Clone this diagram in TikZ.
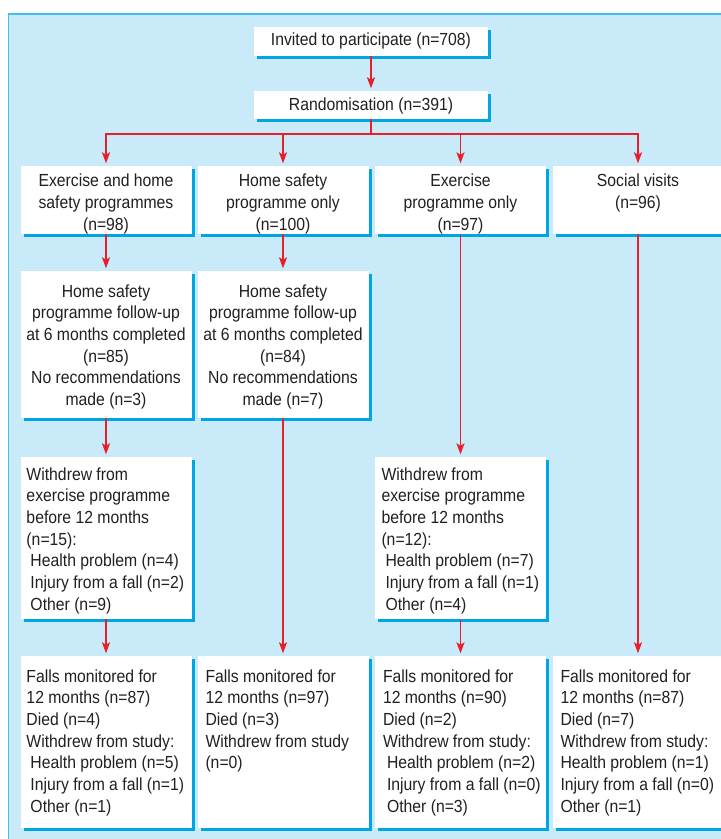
\documentclass[tikz,border=0pt]{standalone}
\usepackage{fontspec}
\setmainfont{Liberation Sans}[FakeStretch=0.9]
\usetikzlibrary{arrows.meta,shadows,calc}
\definecolor{panel}{RGB}{200,234,249}
\definecolor{panelline}{RGB}{64,190,238}
\definecolor{shadowblue}{RGB}{0,166,228}
\definecolor{arrowred}{RGB}{232,30,40}
\definecolor{ink}{RGB}{35,31,32}
\begin{document}
\begin{tikzpicture}[x=1pt,y=-1pt,
  bx/.style={fill=white, draw=none, inner sep=0pt, minimum width=171pt,
    copy shadow={shadow xshift=3pt, shadow yshift=-3pt, fill=shadowblue, draw=none}},
  txt/.style={inner sep=0pt, font=\fontsize{17.5}{21.7}\selectfont, text=ink,
    execute at begin node=\strut},
  ctxt/.style={txt, align=center, anchor=north},
  ltxt/.style={txt, align=left, anchor=north west},
  arr/.style={draw=arrowred, line width=1.5pt,
    -{Stealth[length=11pt,width=8pt,inset=2.5pt]}, shorten >=2.5pt},
  lin/.style={draw=arrowred, line width=1.5pt}
]
\useasboundingbox (0,0) rectangle (721,839);
\clip (0,0) rectangle (721,839);
\fill[white] (0,0) rectangle (721,839);
\draw[panelline, fill=panel, line width=1.5pt] (8.5,14) rectangle (740,860);

% top boxes
\node[bx, minimum width=234pt, minimum height=29pt, txt, execute at begin node={}] (inv) at (371,41.5) {Invited to participate (n=708)};
\node[bx, minimum width=234pt, minimum height=28pt, txt, execute at begin node={}] (rand) at (371,105) {};
\node[txt, execute at begin node={}] (randt) at ($(rand.center)+(0,1.5)$) {Randomisation (n=391)};

% row 1
\node[bx, minimum height=68pt] (r1a) at (106,200) {};
\node[bx, minimum height=68pt] (r1b) at (283,200) {};
\node[bx, minimum height=68pt] (r1c) at (460.5,200) {};
\node[bx, minimum height=68pt] (r1d) at (638,200) {};
% row 2
\node[bx, minimum height=147pt] (r2a) at (106,344.5) {};
\node[bx, minimum height=147pt] (r2b) at (283,344.5) {};
% row 3
\node[bx, minimum height=162pt] (r3a) at (106,538) {};
\node[bx, minimum height=162pt] (r3c) at (460.5,538) {};
% row 4
\node[bx, minimum height=172pt] (r4a) at (106,742) {};
\node[bx, minimum height=172pt] (r4b) at (283,742) {};
\node[bx, minimum height=172pt] (r4c) at (460.5,742) {};
\node[bx, minimum height=172pt] (r4d) at (638,742) {};

% texts row 1
\node[ctxt] (t1a) at ($(r1a.north)+(0,8.3)$) {Exercise and home\\safety programmes\\(n=98)};
\node[ctxt] (t1b) at ($(r1b.north)+(0,8.3)$) {Home safety\\programme only\\(n=100)};
\node[ctxt] (t1c) at ($(r1c.north)+(0,8.3)$) {Exercise\\programme only\\(n=97)};
\node[ctxt] (t1d) at ($(r1d.north)+(0,8.3)$) {Social visits\\(n=96)};
% texts row 2
\node[ctxt] (t2a) at ($(r2a.north)+(0,13.5)$) {Home safety\\programme follow-up\\at 6 months completed\\(n=85)\\No recommendations\\made (n=3)};
\node[ctxt] (t2b) at ($(r2b.north)+(0,13.5)$) {Home safety\\programme follow-up\\at 6 months completed\\(n=84)\\No recommendations\\made (n=7)};
% texts row 3
\node[ltxt] (t3a) at ($(r3a.north west)+(6,10.5)$) {Withdrew from\\exercise programme\\before 12 months\\(n=15):\\\hspace*{4pt}Health problem (n=4)\\\hspace*{4pt}Injury from a fall (n=2)\\\hspace*{4pt}Other (n=9)};
\node[ltxt] (t3c) at ($(r3c.north west)+(6.5,10.5)$) {Withdrew from\\exercise programme\\before 12 months\\(n=12):\\\hspace*{4pt}Health problem (n=7)\\\hspace*{4pt}Injury from a fall (n=1)\\\hspace*{4pt}Other (n=4)};
% texts row 4
\node[ltxt] (t4a) at ($(r4a.north west)+(6,13.5)$) {Falls monitored for\\12 months (n=87)\\Died (n=4)\\Withdrew from study:\\\hspace*{4pt}Health problem (n=5)\\\hspace*{4pt}Injury from a fall (n=1)\\\hspace*{4pt}Other (n=1)};
\node[ltxt] (t4b) at ($(r4b.north west)+(8,13.5)$) {Falls monitored for\\12 months (n=97)\\Died (n=3)\\Withdrew from study\\(n=0)};
\node[ltxt] (t4c) at ($(r4c.north west)+(8,13.5)$) {Falls monitored for\\12 months (n=90)\\Died (n=2)\\Withdrew from study:\\\hspace*{4pt}Health problem (n=2)\\\hspace*{4pt}Injury from a fall (n=0)\\\hspace*{4pt}Other (n=3)};
\node[ltxt] (t4d) at ($(r4d.north west)+(8,13.5)$) {Falls monitored for\\12 months (n=87)\\Died (n=7)\\Withdrew from study:\\Health problem (n=1)\\Injury from a fall (n=0)\\Other (n=1)};

% connectors
\coordinate (split) at (371,134);
\draw[arr] (inv.south) -- (rand.north);
\draw[lin] (rand.south) -- (split);
\draw[arr] (split) -| (r1a.north);
\draw[arr] (split) -| (r1b.north);
\draw[arr] (split) -| (r1c.north);
\draw[arr] (split) -| (r1d.north);
\draw[arr] (r1a.south) -- (r2a.north);
\draw[arr] (r1b.south) -- (r2b.north);
\draw[arr] (r2a.south) -- (r3a.north);
\draw[arr] (r1c.south) -- (r3c.north);
\draw[arr] (r3a.south) -- (r4a.north);
\draw[arr] (r2b.south) -- (r4b.north);
\draw[arr] (r3c.south) -- (r4c.north);
\draw[arr] (r1d.south) -- (r4d.north);
\end{tikzpicture}
\end{document}
